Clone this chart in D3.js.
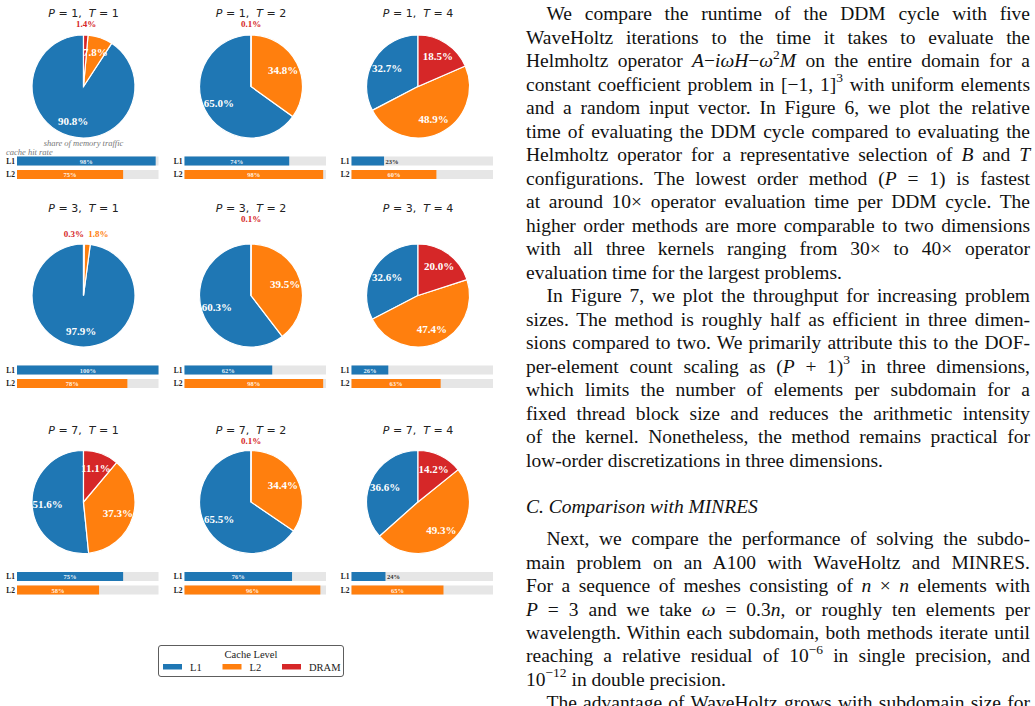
<!DOCTYPE html>
<html>
<head>
<meta charset="utf-8">
<script src="https://cdn.jsdelivr.net/npm/d3@7"></script>
<style>
  body { margin: 0; background: #fff; width: 1035px; height: 706px; overflow: hidden; position: relative; }
  #chart { position: absolute; left: 0; top: 0; }
  #text { position: absolute; left: 0; top: 0; font-family: "Liberation Serif", "Times New Roman", serif; font-size: 19.5px; color: #111; }
  .ln { position: absolute; white-space: nowrap; line-height: 22px; }
  .ln sup { font-size: 13.5px; line-height: 0; position: relative; top: -1px; }
</style>
</head>
<body>
<svg id="chart" width="515" height="706"></svg>
<div id="text"></div>
<script>
// panel grid: rows = polynomial order P, columns = threads T
const orders = [1, 3, 7];
const threads = [1, 2, 4];
const levels = ["L1", "L2", "DRAM"];
const levelColors = ["#1f77b4", "#ff7f0e", "#d62728"];

// share of memory traffic (%) per panel, row-major
const shareL1   = [90.8, 65.0, 32.7, 97.9, 60.3, 32.6, 51.6, 65.5, 36.6];
const shareL2   = [7.8, 34.8, 48.9, 1.8, 39.5, 47.4, 37.3, 34.4, 49.3];
const shareDRAM = [1.4, 0.1, 18.5, 0.3, 0.1, 20.0, 11.1, 0.1, 14.2];

// cache hit rate (%) per panel
const hitL1 = [98, 74, 23, 100, 62, 26, 75, 76, 24];
const hitL2 = [75, 98, 60, 78, 98, 63, 58, 96, 65];

const svg = d3.select("#chart");
const colX = [83.5, 251, 418];
const rowY = [86.5, 295.5, 502];
const titleY = [17.3, 212, 433.5];
const R = 51.5;

const pie = d3.pie().sort(null).value(d => d.v).startAngle(0).endAngle(-2 * Math.PI);
const arc = d3.arc().innerRadius(0).outerRadius(R);
const inArc = d3.arc().innerRadius(R * 0.7).outerRadius(R * 0.7);
const outArc = d3.arc().innerRadius(R * 1.2).outerRadius(R * 1.2);
const barX = d3.scaleLinear().domain([0, 100]).range([0, 141.5]);

orders.forEach((P, r) => {
  threads.forEach((T, c) => {
    const i = r * 3 + c;
    const cx = colX[c], cy = rowY[r];
    const g = svg.append("g");

    // title
    const t = g.append("text")
      .attr("x", cx).attr("y", titleY[r])
      .attr("text-anchor", "middle")
      .attr("font-family", "DejaVu Sans")
      .attr("font-size", 11)
      .attr("fill", "#222")
      .style("white-space", "pre");
    t.append("tspan").attr("font-style", "italic").text("P");
    t.append("tspan").text(" = " + P + ",  ");
    t.append("tspan").attr("font-style", "italic").text("T");
    t.append("tspan").text(" = " + T);

    const vals = [shareL1[i], shareL2[i], shareDRAM[i]].map((v, k) => ({ v, k }));
    const arcs = pie(vals);
    const pg = g.append("g").attr("transform", `translate(${cx},${cy})`);

    pg.selectAll("path").data(arcs).enter().append("path")
      .attr("d", arc)
      .attr("fill", d => levelColors[d.data.k])
      .attr("stroke", "#fff")
      .attr("stroke-width", 1.2);

    const inside = arcs.filter(d => d.data.v >= 5);
    const outside = arcs.filter(d => d.data.v < 5).sort((a, b) => b.data.k - a.data.k);

    pg.selectAll("text.in").data(inside).enter().append("text")
      .attr("class", "in")
      .attr("x", d => inArc.centroid(d)[0])
      .attr("y", d => inArc.centroid(d)[1])
      .attr("text-anchor", "middle")
      .attr("dominant-baseline", "central")
      .attr("font-family", "Liberation Serif")
      .attr("font-weight", "bold")
      .attr("font-size", 11)
      .attr("fill", "#fff")
      .text(d => d.data.v.toFixed(1) + "%");

    // tiny slices: a lone label sits just under the title, a pair spreads apart at 1.2R
    pg.selectAll("text.out").data(outside).enter().append("text")
      .attr("class", "out")
      .attr("x", d => outArc.centroid(d)[0])
      .attr("y", d => outside.length === 1 ? titleY[r] + 7 - cy : outArc.centroid(d)[1])
      .attr("text-anchor", (d, j) => outside.length === 1 ? "middle" : (j === 0 ? "end" : "start"))
      .attr("dominant-baseline", "central")
      .attr("font-family", "Liberation Serif")
      .attr("font-weight", "bold")
      .attr("font-size", 9)
      .attr("fill", d => levelColors[d.data.k])
      .text(d => d.data.v.toFixed(1) + "%");

    if (i === 0) {
      g.append("text").attr("x", cx).attr("y", cy + 59.5)
        .attr("text-anchor", "middle")
        .attr("font-family", "Liberation Serif").attr("font-style", "italic")
        .attr("font-size", 8.5).attr("fill", "#777")
        .text("share of memory traffic");
      g.append("text").attr("x", 6).attr("y", cy + 68)
        .attr("font-family", "Liberation Serif").attr("font-style", "italic")
        .attr("font-size", 8.5).attr("fill", "#777")
        .text("cache hit rate");
    }

    // hit-rate bars
    const bx = cx - 66.5;
    [hitL1[i], hitL2[i]].forEach((h, k) => {
      const by = cy + 70 + k * 13.5;
      g.append("rect").attr("x", bx).attr("y", by).attr("width", barX(100)).attr("height", 9).attr("fill", "#e6e6e6");
      g.append("rect").attr("x", bx).attr("y", by).attr("width", barX(h)).attr("height", 9).attr("fill", levelColors[k]);
      g.append("text").attr("x", bx - 2).attr("y", by + 4.7)
        .attr("text-anchor", "end").attr("dominant-baseline", "central")
        .attr("font-family", "Liberation Serif").attr("font-weight", "bold")
        .attr("font-size", 7.5).attr("fill", "#222")
        .text(levels[k]);
      const inBar = h >= 25;
      g.append("text")
        .attr("x", inBar ? bx + barX(h) / 2 : bx + barX(h) + 1.5)
        .attr("y", by + 4.7)
        .attr("text-anchor", inBar ? "middle" : "start")
        .attr("dominant-baseline", "central")
        .attr("font-family", "Liberation Serif").attr("font-weight", "bold")
        .attr("font-size", 6.5)
        .attr("fill", inBar ? "#fff" : "#333")
        .attr("fill-opacity", inBar ? 0.9 : 1)
        .text(h + "%");
    });
  });
});

// legend
const lg = svg.append("g");
lg.append("rect").attr("x", 158.5).attr("y", 645.5).attr("width", 185).attr("height", 31)
  .attr("rx", 2.5).attr("fill", "#fff").attr("stroke", "#333").attr("stroke-width", 0.8);
lg.append("text").attr("x", 251).attr("y", 657.5).attr("text-anchor", "middle")
  .attr("font-family", "Liberation Serif").attr("font-size", 10.5).attr("fill", "#222")
  .text("Cache Level");
const legX = [163, 222.5, 282];
levels.forEach((name, k) => {
  lg.append("rect").attr("x", legX[k]).attr("y", 664).attr("width", 19).attr("height", 5.5).attr("fill", levelColors[k]);
  lg.append("text").attr("x", legX[k] + 27).attr("y", 670.5)
    .attr("font-family", "Liberation Serif").attr("font-size", 10.5).attr("fill", "#222")
    .text(name);
});

// body text column
const paragraphs = [
  { base: 21, step: 23.5, lines: [
    "We compare the runtime of the DDM cycle with five",
    "WaveHoltz iterations to the time it takes to evaluate the",
    "Helmholtz operator <i>A</i>\u2212<i>iωH</i>\u2212<i>ω</i><sup>2</sup><i>M</i> on the entire domain for a",
    "constant coefficient problem in [\u22121, 1]<sup>3</sup> with uniform elements",
    "and a random input vector. In Figure 6, we plot the relative",
    "time of evaluating the DDM cycle compared to evaluating the",
    "Helmholtz operator for a representative selection of <i>B</i> and <i>T</i>",
    "configurations. The lowest order method (<i>P</i> = 1) is fastest",
    "at around 10× operator evaluation time per DDM cycle. The",
    "higher order methods are more comparable to two dimensions",
    "with all three kernels ranging from 30× to 40× operator",
    "evaluation time for the largest problems."
  ]},
  { base: 303, step: 23.5, lines: [
    "In Figure 7, we plot the throughput for increasing problem",
    "sizes. The method is roughly half as efficient in three dimen-",
    "sions compared to two. We primarily attribute this to the DOF-",
    "per-element count scaling as (<i>P</i> + 1)<sup>3</sup> in three dimensions,",
    "which limits the number of elements per subdomain for a",
    "fixed thread block size and reduces the arithmetic intensity",
    "of the kernel. Nonetheless, the method remains practical for",
    "low-order discretizations in three dimensions."
  ]},
  { base: 514, step: 0, heading: true, lines: [
    "<i>C. Comparison with MINRES</i>"
  ]},
  { base: 546, step: 23.4, lines: [
    "Next, we compare the performance of solving the subdo-",
    "main problem on an A100 with WaveHoltz and MINRES.",
    "For a sequence of meshes consisting of <i>n</i> × <i>n</i> elements with",
    "<i>P</i> = 3 and we take <i>ω</i> = 0.3<i>n</i>, or roughly ten elements per",
    "wavelength. Within each subdomain, both methods iterate until",
    "reaching a relative residual of 10<sup>\u22126</sup> in single precision, and",
    "10<sup>\u221212</sup> in double precision."
  ]},
  { base: 710, step: 23.4, open: true, lines: [
    "The advantage of WaveHoltz grows with subdomain size for"
  ]}
];

const textDiv = d3.select("#text");
const left = 526, right = 1030, indent = 20.5;
paragraphs.forEach(p => {
  p.lines.forEach((html, j) => {
    const x0 = left + (j === 0 && !p.heading ? indent : 0);
    const ln = textDiv.append("div").attr("class", "ln")
      .style("left", x0 + "px")
      .style("top", (p.base + j * p.step - 17.6) + "px")
      .html(html);
    const isLast = j === p.lines.length - 1 && !p.open;
    if (!isLast && !p.heading) {
      const node = ln.node();
      const w = node.getBoundingClientRect().width;
      const spaces = (node.textContent.match(/ /g) || []).length;
      if (spaces > 0) ln.style("word-spacing", ((right - x0 - w) / spaces) + "px");
    }
  });
});
</script>
</body>
</html>
